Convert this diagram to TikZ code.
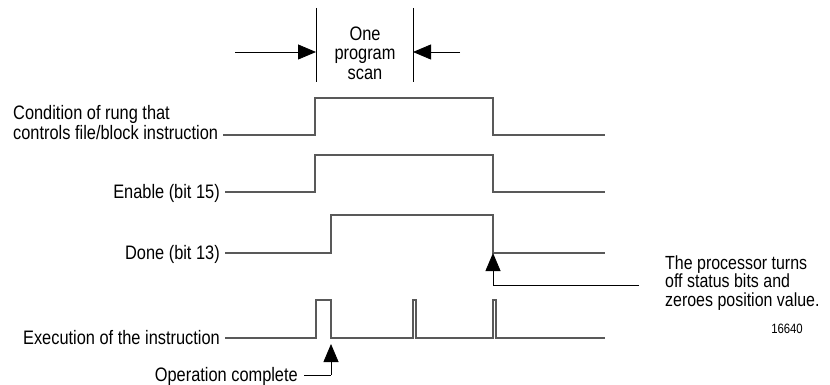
\documentclass[tikz,border=0pt]{standalone}
\usepackage{fontspec}
\setmainfont{Liberation Sans}[FakeStretch=0.84]
\usetikzlibrary{arrows.meta}
\begin{document}
\begin{tikzpicture}[x=1pt,y=-1pt,
  lbl/.style={font=\fontsize{19.5}{20}\selectfont, inner sep=0pt},
  wave/.style={draw=black!65, line width=1.1pt},
  pointer/.style={draw=black, line width=0.8pt},
  tipped/.style={pointer, -{Triangle[width=15pt,length=18pt]}},
]
\useasboundingbox (0,0) rectangle (830,385);

% scan markers
\coordinate (s1t) at (316,8);  \coordinate (s1b) at (316,82);
\coordinate (s2t) at (413,8);  \coordinate (s2b) at (413,82);
\draw[pointer] (s1t) -- (s1b);
\draw[pointer] (s2t) -- (s2b);
\coordinate (la) at (235,52); \coordinate (lt) at (316,52);
\coordinate (ra) at (460,52); \coordinate (rt) at (413,52);
\draw[tipped] (la) -- (lt);
\draw[tipped] (ra) -- (rt);
\node[lbl, align=center, font=\fontsize{19.5}{19.5}\selectfont] (scan) at (365,53) {One\\program\\scan};

% labels
\node[lbl, anchor=base west] (cond1) at (13,120) {Condition of rung that};
\node[lbl, anchor=base west] (cond2) at (13,140) {controls file/block instruction};
\node[lbl, anchor=base east] (en) at (220,198) {Enable (bit 15)};
\node[lbl, anchor=base east] (dn) at (220,259) {Done (bit 13)};
\node[lbl, anchor=base east] (ex) at (220,344) {Execution of the instruction};
\node[lbl, anchor=base east] (op) at (298,381) {Operation complete};
\node[lbl, anchor=base west, align=left, font=\fontsize{19}{18.5}\selectfont] (proc) at (665,306) {The processor turns\\off status bits and\\zeroes position value.};
\node[lbl, anchor=base east, font=\fontsize{13.5}{15}\selectfont] (fig) at (803,333) {16640};

% waveforms
\draw[wave] ([xshift=5pt]cond2.east |- 0,135) -- (315,135) -- (315,98) -- (493,98) -- (493,135) -- (605,135);
\draw[wave] ([xshift=5pt]en.east |- 0,192) -- (315,192) -- (315,155) -- (493,155) -- (493,192) -- (605,192);
\draw[wave] ([xshift=5pt]dn.east |- 0,253) -- (331,253) -- (331,215) -- (493,215) -- (493,253) -- (605,253);
\draw[wave] ([xshift=5pt]ex.east |- 0,338) -- (316,338) -- (316,300) -- (331,300) -- (331,338)
   -- (413,338) -- (413,300) -- (416,300) -- (416,338)
   -- (493,338) -- (493,300) -- (496,300) -- (496,338) -- (605,338);

% pointers
\coordinate (opc) at (331,375);
\coordinate (optip) at (331,344);
\draw[pointer] ([xshift=6pt]op.east |- opc) -- (opc);
\draw[tipped] (opc) -- (optip);
\coordinate (prc) at (493,285);
\coordinate (prtip) at (493,253);
\coordinate (pre) at (639,285);
\draw[pointer] (pre) -- (prc);
\draw[tipped] (prc) -- (prtip);
\end{tikzpicture}
\end{document}
